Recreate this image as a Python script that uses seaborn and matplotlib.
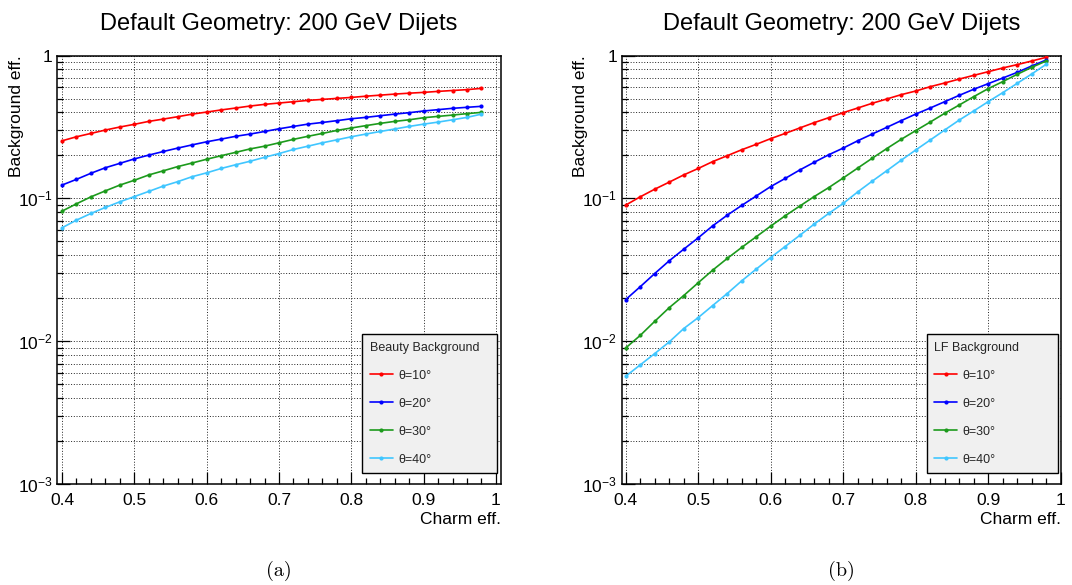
import matplotlib
matplotlib.use("Agg")
import matplotlib.pyplot as plt
import pandas as pd
import seaborn as sns
from matplotlib.ticker import LogLocator, MultipleLocator, NullFormatter

# ---- data -------------------------------------------------------------
charm_eff = [0.40, 0.42, 0.44, 0.46, 0.48, 0.50, 0.52, 0.54, 0.56, 0.58,
             0.60, 0.62, 0.64, 0.66, 0.68, 0.70, 0.72, 0.74, 0.76, 0.78,
             0.80, 0.82, 0.84, 0.86, 0.88, 0.90, 0.92, 0.94, 0.96, 0.98]

# beauty-jet background efficiency
beauty_10 = [0.253, 0.270, 0.285, 0.301, 0.316, 0.330, 0.346, 0.359, 0.373, 0.389,
             0.402, 0.416, 0.429, 0.443, 0.455, 0.465, 0.475, 0.485, 0.493, 0.501,
             0.509, 0.519, 0.528, 0.537, 0.545, 0.552, 0.561, 0.569, 0.577, 0.589]
beauty_20 = [0.124, 0.136, 0.150, 0.164, 0.176, 0.189, 0.201, 0.213, 0.225, 0.237,
             0.249, 0.260, 0.272, 0.282, 0.294, 0.307, 0.319, 0.331, 0.340, 0.350,
             0.361, 0.369, 0.379, 0.389, 0.398, 0.409, 0.418, 0.427, 0.434, 0.441]
beauty_30 = [0.0815, 0.0917, 0.1026, 0.113, 0.124, 0.134, 0.146, 0.156, 0.167, 0.177,
             0.188, 0.199, 0.210, 0.222, 0.232, 0.245, 0.259, 0.272, 0.285, 0.299,
             0.311, 0.323, 0.335, 0.346, 0.355, 0.367, 0.375, 0.383, 0.392, 0.400]
beauty_40 = [0.0623, 0.0705, 0.0785, 0.0865, 0.0947, 0.103, 0.112, 0.122, 0.131, 0.142,
             0.151, 0.162, 0.172, 0.182, 0.194, 0.206, 0.220, 0.232, 0.245, 0.257,
             0.270, 0.282, 0.294, 0.306, 0.319, 0.331, 0.342, 0.355, 0.369, 0.389]

# light-flavour background efficiency
lf_10 = [0.0898, 0.1026, 0.116, 0.130, 0.146, 0.162, 0.181, 0.199, 0.219, 0.239,
         0.262, 0.285, 0.311, 0.339, 0.367, 0.398, 0.429, 0.463, 0.496, 0.532,
         0.564, 0.605, 0.642, 0.684, 0.726, 0.770, 0.818, 0.863, 0.915, 0.971]
lf_20 = [0.0196, 0.0241, 0.0298, 0.0366, 0.0441, 0.0530, 0.0643, 0.0763, 0.0893, 0.104,
         0.121, 0.138, 0.158, 0.179, 0.202, 0.225, 0.253, 0.282, 0.314, 0.350,
         0.389, 0.429, 0.475, 0.526, 0.580, 0.635, 0.695, 0.762, 0.844, 0.930]
lf_30 = [0.00899, 0.0110, 0.0138, 0.0172, 0.0209, 0.0257, 0.0315, 0.0380, 0.0454, 0.0539,
         0.0640, 0.0756, 0.0883, 0.103, 0.119, 0.139, 0.163, 0.191, 0.223, 0.259,
         0.298, 0.342, 0.394, 0.450, 0.515, 0.586, 0.656, 0.738, 0.826, 0.915]
lf_40 = [0.00570, 0.00684, 0.00821, 0.00990, 0.01228, 0.01466, 0.01781, 0.0216, 0.0265, 0.0320,
         0.0386, 0.0461, 0.0551, 0.0661, 0.0785, 0.0922, 0.111, 0.132, 0.156, 0.185,
         0.218, 0.256, 0.301, 0.353, 0.409, 0.475, 0.549, 0.638, 0.742, 0.867]

angle_labels = ["θ=10°", "θ=20°", "θ=30°", "θ=40°"]
line_colors = ["#ff0000", "#0000ff", "#1c9a1c", "#40c6ff"]

panel_title = "Default Geometry: 200 GeV Dijets"
legend_headers = ["Beauty Background", "LF Background"]
captions = ["(a)", "(b)"]
x_label = "Charm eff."
y_label = "Background eff."

x_ticks = [0.4, 0.5, 0.6, 0.7, 0.8, 0.9, 1.0]
x_tick_labels = ["0.4", "0.5", "0.6", "0.7", "0.8", "0.9", "1"]
y_ticks = [1e-3, 1e-2, 1e-1, 1.0]
y_tick_labels = [r"$\mathregular{10^{-3}}$", r"$\mathregular{10^{-2}}$",
                 r"$\mathregular{10^{-1}}$", "1"]


def long_table(series):
    frames = [pd.DataFrame({"charm": charm_eff, "bkg": vals, "angle": lab})
              for lab, vals in zip(angle_labels, series)]
    return pd.concat(frames, ignore_index=True)


panels = [long_table([beauty_10, beauty_20, beauty_30, beauty_40]),
          long_table([lf_10, lf_20, lf_30, lf_40])]

# ---- style ------------------------------------------------------------
sns.set_theme(style="ticks")
plt.rcParams["font.family"] = ["Liberation Sans", "DejaVu Sans"]
plt.rcParams["mathtext.fontset"] = "custom"
plt.rcParams["mathtext.rm"] = "Liberation Sans"
plt.rcParams["mathtext.it"] = "Liberation Sans:italic"
plt.rcParams["axes.linewidth"] = 1.0
plt.rcParams["axes.edgecolor"] = "black"

fig = plt.figure(figsize=(10.72, 5.85), dpi=100)
fig.patch.set_facecolor("white")

W, H = 1072.0, 585.0
ax_top, ax_bot = 55.5, 484.3
axes_px = [(57.3, 501.0), (621.7, 1061.0)]
x_limits = [(0.3935, 1.007), (0.3945, 1.0005)]
ylabel_offset_px = 41.0
legend_left_px = 305.0
legend_width_px = [134.4, 131.3]

for i, (df, (x0, x1)) in enumerate(zip(panels, axes_px)):
    ax = fig.add_axes([x0 / W, 1 - ax_bot / H, (x1 - x0) / W, (ax_bot - ax_top) / H])
    ax.set_facecolor("white")

    sns.lineplot(data=df, x="charm", y="bkg", hue="angle", hue_order=angle_labels,
                 palette=line_colors, marker="o", markersize=3.0, markeredgewidth=0,
                 linewidth=1.2, estimator=None, sort=False, legend=False, ax=ax,
                 zorder=3)

    ax.set_yscale("log")
    ax.set_ylim(1e-3, 1.0)
    ax.set_xlim(*x_limits[i])

    ax.set_xticks(x_ticks, x_tick_labels)
    ax.xaxis.set_minor_locator(MultipleLocator(0.02))
    ax.set_yticks(y_ticks, y_tick_labels)
    ax.yaxis.set_minor_locator(LogLocator(base=10, subs=[2, 3, 4, 5, 6, 7, 8, 9]))
    ax.yaxis.set_minor_formatter(NullFormatter())

    ax.tick_params(which="both", direction="in", top=False, right=False,
                   color="black", width=0.9, labelsize=12.5, labelcolor="black")
    ax.tick_params(which="major", length=9)
    ax.tick_params(which="minor", length=4.5)
    ax.tick_params(axis="x", which="major", pad=6.3)
    ax.tick_params(axis="y", which="major", pad=3.3)

    grid_kw = dict(color="#222222", linestyle=(0, (1, 1.8)), linewidth=0.7)
    ax.grid(True, which="major", axis="x", **grid_kw)
    ax.grid(True, which="both", axis="y", **grid_kw)

    for sp in ax.spines.values():
        sp.set_visible(True)
        sp.set_color("black")
        sp.set_linewidth(1.1)

    ax.set_title(panel_title, fontsize=17, pad=18.7, color="black")

    ax.set_xlabel(x_label, fontsize=12.5, color="black")
    ax.xaxis.set_label_coords(1.0, -(520.0 - ax_bot) / (ax_bot - ax_top))
    ax.xaxis.label.set_ha("right")
    ax.xaxis.label.set_va("center")

    ax.set_ylabel(y_label, fontsize=12.5, color="black")
    ax.yaxis.set_label_coords(-ylabel_offset_px / (x1 - x0), 1.0)
    ax.yaxis.label.set_ha("right")
    ax.yaxis.label.set_va("center")

    # legend box anchored in pixel offsets from the frame
    bx = legend_left_px / (x1 - x0)
    bw = legend_width_px[i] / (x1 - x0)
    by = (ax_bot - 473.3) / (ax_bot - ax_top)
    leg = ax.legend(handles=ax.lines[:4], labels=angle_labels, title=legend_headers[i],
                    loc="lower left", bbox_to_anchor=(bx, by, bw, 0.32), mode="expand",
                    borderaxespad=0, fontsize=9, title_fontsize=9, frameon=True,
                    fancybox=False, framealpha=1, facecolor="#f0f0f0",
                    edgecolor="black", borderpad=0.6, labelspacing=1.28,
                    handlelength=1.85, handletextpad=0.4, alignment="left",
                    numpoints=1)
    leg.get_frame().set_linewidth(1.0)
    leg.set_zorder(5)

    fig.text((x0 + x1) / 2 / W, 1 - 571.0 / H, captions[i], family="cmr10",
             fontsize=14.5, ha="center", va="center", color="black")

fig.savefig("out.png", dpi=100, facecolor="white")
